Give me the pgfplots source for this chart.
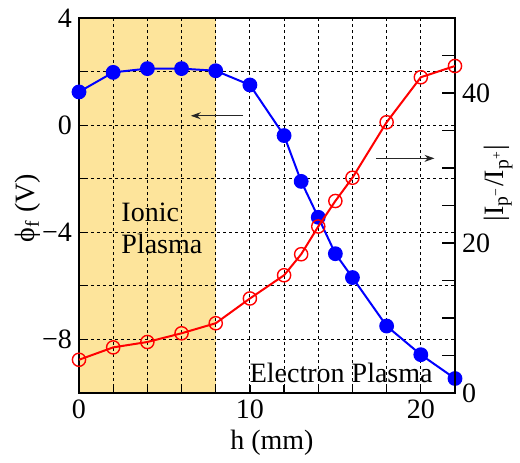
\documentclass[border=0pt]{standalone}
\usepackage{fontspec}
\setmainfont{Liberation Serif}
\usepackage{pgfplots}
\pgfplotsset{compat=1.18}
\usetikzlibrary{arrows.meta}
\definecolor{ionfill}{RGB}{253,228,155}

\pgfplotsset{
  base/.style={
    scale only axis, width=188pt, height=187.5pt,
    xmin=0, xmax=22,
    font=\fontsize{14}{16}\selectfont,
    tick style={black, line width=0.6pt},
    axis line style={black, line width=0.8pt},
    tick align=inside,
  },
}

\begin{document}
\begin{tikzpicture}
\begin{axis}[base, name=ax, set layers,
  ymin=-10, ymax=4,
  xtick={0,10,20}, xticklabels={0,10,20},
  minor xtick={2,4,6,8,12,14,16,18,22},
  ytick={-8,-4,0,4}, yticklabels={−8,−4,0,4},
  minor ytick={-6,-2,2},
  xtick pos=bottom, ytick pos=left,
  major tick length=4pt, minor tick length=4pt,
  grid=both,
  grid style={black, line width=0.55pt, dash pattern=on 1.5pt off 1.5pt},
  major grid style={black, line width=0.55pt, dash pattern=on 1.5pt off 1.5pt},
  minor grid style={black, line width=0.55pt, dash pattern=on 1.5pt off 1.5pt},
  xlabel={h (mm)}, ylabel={ϕ\textsubscript{f} (V)},
  xlabel style={at={(axis description cs:0.513,-0.133)}, anchor=center},
  ylabel style={at={(axis description cs:-0.136,0.493)}, anchor=center},
  clip=false,
]
% ionic plasma region
\addplot[fill=ionfill, draw=none, on layer=axis background]
  coordinates {(0,-10) (0,4) (8,4) (8,-10)} -- cycle;

% floating potential
\addplot[blue, line width=1pt, mark=*, mark size=3.2pt, mark options={fill=blue}]
  coordinates {
  (0,1.24) (2,1.97) (4,2.11) (6,2.11) (8,2.03) (10,1.50)
  (12,-0.39) (13,-2.10) (14,-3.44) (15,-4.80) (16,-5.69)
  (18,-7.50) (20,-8.57) (22,-9.46)
  };

\draw[black!85, line width=0.6pt, -{Stealth[length=5pt,width=3.5pt]}]
  (axis cs:9.6,0.35) -- (axis cs:6.54,0.35);
\draw[black!85, line width=0.6pt, -{Stealth[length=5pt,width=3.5pt]}]
  (axis cs:17.4,-1.24) -- (axis cs:20.8,-1.24);

\node[anchor=north west, inner sep=0pt, align=left,
  font=\fontsize{14}{16}\selectfont] at (axis cs:2.46,-2.9) {Ionic\\Plasma};
\node[anchor=base east, inner sep=0pt,
  font=\fontsize{14}{16}\selectfont] at (axis cs:20.71,-9.62) {Electron Plasma};
\end{axis}

\begin{axis}[base,
  ymin=0, ymax=50,
  axis x line=none, axis y line*=right,
  ytick={0,20,40}, yticklabels={0,20,40},
  minor ytick={5,10,15,25,30,35,45,50},
  major tick length=6.5pt, minor tick length=6.5pt,
  ylabel={|I\textsubscript{p\textsuperscript{−}}/I\textsubscript{p\textsuperscript{+}}|},
  ylabel style={at={(axis description cs:1.115,0.56)}, anchor=center, rotate=0},
]
\addplot[red, line width=1pt, mark=o, mark size=3.3pt,
  mark options={fill=white, line width=0.7pt}]
  coordinates {
  (0,4.43) (2,6.08) (4,6.80) (6,7.96) (8,9.30) (10,12.6)
  (12,15.7) (13,18.5) (14,22.2) (15,25.6) (16,28.7)
  (18,36.1) (20,42.1) (22,43.6)
  };
\end{axis}

\path (ax.south west) ++(-39.5pt,-31.5pt) rectangle ++(260pt,228pt);
\end{tikzpicture}
\end{document}
